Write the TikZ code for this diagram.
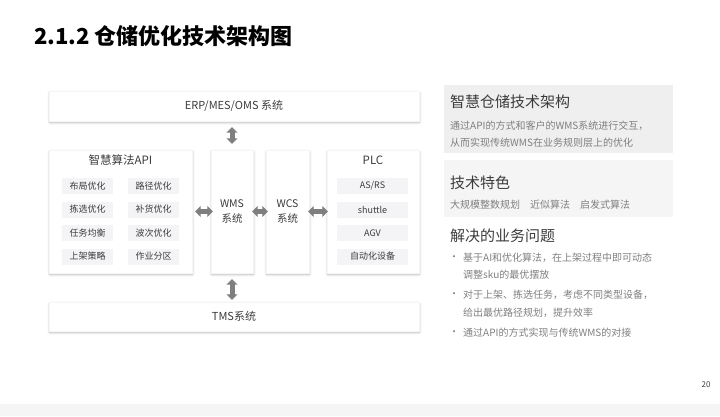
\documentclass[tikz,border=0pt]{standalone}
\usepackage{fontspec}
\setmainfont{Noto Sans CJK SC}
\usetikzlibrary{arrows.meta, positioning, calc, shadows.blur}
\definecolor{txt}{HTML}{3C3C3C}
\definecolor{soft}{HTML}{7F7F7F}
\definecolor{itemfill}{HTML}{F4F3F6}
\definecolor{arrgray}{HTML}{7F7F7F}
\definecolor{panelA}{HTML}{EFEFEF}
\definecolor{panelB}{HTML}{F5F5F5}
\newcommand{\fsz}[1]{\fontsize{#1}{#1}\selectfont}

\begin{document}
\begin{tikzpicture}[
    x=1pt, y=-1pt,
    box/.style={draw=black!4, fill=white, inner sep=0pt, text=txt, font=\fsz{11},
        blur shadow={shadow xshift=0.6pt, shadow yshift=-1.6pt, shadow blur steps=6, shadow opacity=30}},
    item/.style={fill=itemfill, minimum height=16pt, inner sep=0pt, text=txt, font=\fsz{9}},
    apiitem/.style={item, minimum width=51pt},
    plcitem/.style={item, minimum width=71pt},
    dblarr/.style={{Triangle[width=11pt,length=5.5pt]}-{Triangle[width=11pt,length=5.5pt]}, line width=5pt, arrgray},
    panel/.style={minimum width=229pt, inner sep=0pt},
    head/.style={anchor=west, inner sep=0pt, text=txt, font=\fsz{15}},
    body/.style={anchor=west, inner sep=0pt, text=soft, font=\fsz{10}},
]
\useasboundingbox (0,0) rectangle (720,416);
\fill[panelB] (0,404) rectangle (720,416);

% title
\node[anchor=west, inner sep=0pt, font=\bfseries\fsz{22}] (title) at (34,36) {2.1.2 仓储优化技术架构图};

% system boxes
\node[box, minimum width=370pt, minimum height=30pt] (erp) at (234,106) {ERP/MES/OMS 系统};
\node[box, minimum width=143pt, minimum height=123pt] (api) at (120.5,211.5) {};
\node[box, minimum width=42pt, minimum height=123pt, align=center, font=\fsz{10.5}] (wms) at (232,211.5) {WMS\\[4pt]系统};
\node[box, minimum width=43pt, minimum height=123pt, align=center, font=\fsz{10.5}] (wcs) at (287.5,211.5) {WCS\\[4pt]系统};
\node[box, minimum width=92pt, minimum height=123pt] (plc) at (373,211.5) {};
\node[box, minimum width=370pt, minimum height=29pt] (tms) at (234,316.5) {TMS系统};

\node[text=txt, font=\fsz{11.5}, inner sep=0pt] (apititle) at (120.5,160) {智慧算法API};
\node[text=txt, font=\fsz{11.5}, inner sep=0pt] (plctitle) at (373,160) {PLC};

% algorithm items
\node[apiitem] (layout) at (87.5,186) {布局优化};
\node[apiitem] (route) at (153.5,186) {路径优化};
\node[apiitem] (pick) at (87.5,209.5) {拣选优化};
\node[apiitem] (refill) at (153.5,209.5) {补货优化};
\node[apiitem] (balance) at (87.5,233) {任务均衡};
\node[apiitem] (wave) at (153.5,233) {波次优化};
\node[apiitem] (putaway) at (87.5,256.5) {上架策略};
\node[apiitem] (zone) at (153.5,256.5) {作业分区};

% equipment items
\node[plcitem] (asrs) at (372.5,186) {AS/RS};
\node[plcitem] (shuttle) at (372.5,209.5) {shuttle};
\node[plcitem] (agv) at (372.5,233) {AGV};
\node[plcitem] (auto) at (372.5,256.5) {自动化设备};

% connectors
\draw[dblarr, shorten <=6pt, shorten >=6pt] (wms.north |- erp.south) -- (wms.north);
\draw[dblarr, shorten <=6pt, shorten >=2pt] (wms.south) -- (wms.south |- tms.north);
\draw[dblarr, shorten <=3pt, shorten >=-2pt] (api.east |- wms) -- (wms.west);
\draw[dblarr, shorten <=-1pt, shorten >=-2pt] (wms.east) -- (wcs.west);
\draw[dblarr, shorten <=-1pt, shorten >=-1pt] (wcs.east) -- (plc.west);

% right panel
\node[panel, fill=panelA, minimum height=68pt] (archbg) at (558.5,119) {};
\node[panel, fill=panelB, minimum height=57pt] (featbg) at (558.5,188.5) {};

\node[head] (arch) at (450,102) {智慧仓储技术架构};
\node[body] (arch1) at (450,126) {通过API的方式和客户的WMS系统进行交互，};
\node[body] (arch2) at (450,143) {从而实现传统WMS在业务规则层上的优化};

\node[head] (feat) at (450,183) {技术特色};
\node[body] (feat1) at (450,204.5) {大规模整数规划\quad 近似算法\quad 启发式算法};

\node[head] (prob) at (450,236) {解决的业务问题};
\node[body, font=\fsz{10}] (dot1) at (449,258) {•};
\node[body] (prob1) at (463,258) {基于AI和优化算法，在上架过程中即可动态};
\node[body] (prob1b) at (463,275) {调整sku的最优摆放};
\node[body, font=\fsz{10}] (dot2) at (449,295) {•};
\node[body] (prob2) at (463,295) {对于上架、拣选任务，考虑不同类型设备，};
\node[body] (prob2b) at (463,313) {给出最优路径规划，提升效率};
\node[body, font=\fsz{10}] (dot3) at (449,333) {•};
\node[body] (prob3) at (463,333) {通过API的方式实现与传统WMS的对接};

\node[text=txt, font=\fsz{8}, inner sep=0pt] (page) at (706,385) {20};
\end{tikzpicture}
\end{document}
